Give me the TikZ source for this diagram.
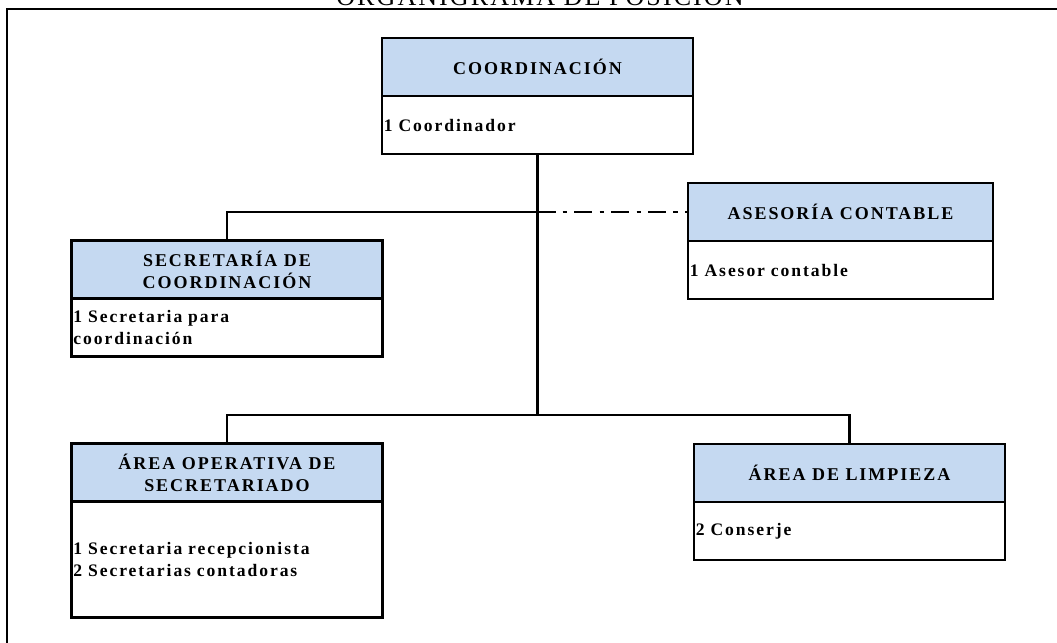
\documentclass[tikz,border=0pt]{standalone}
\usepackage{fontspec}
\setmainfont{Liberation Serif}
\newfontfamily\boxfont[LetterSpace=11]{Liberation Serif}
\newfontfamily\titlefont[LetterSpace=8]{Liberation Serif}
\usetikzlibrary{positioning}
\definecolor{headblue}{HTML}{C5D9F1}

\begin{document}
\begin{tikzpicture}[x=0.025cm,y=-0.025cm,line width=1.7pt,
  head/.style={draw,fill=headblue,outer sep=0pt,minimum width=7.775cm,minimum height=1.45cm,align=center,font=\boxfont\fontsize{12.8}{15.5}\selectfont\bfseries},
  body/.style={draw,outer sep=0pt,minimum height=1.45cm,text width=7.675cm,inner xsep=0.05cm,align=left,font=\boxfont\fontsize{12.5}{15.5}\selectfont\bfseries}]

\useasboundingbox (0,0) rectangle (1057,643);

% frame and title (cut at the page edge)
\draw (7,700) -- (7,9) -- (1100,9);
\node[anchor=base,inner sep=0pt,font=\titlefont\fontsize{18.5}{20}\selectfont](title) at (540,6){ORGANIGRAMA DE POSICIÓN};

\node[head](coord) at (537.5,67){COORDINACIÓN};
\node[body](coordB)[below=0pt of coord]{1 Coordinador};

\node[head](secre) at (227,269.5){SECRETARÍA DE\\COORDINACIÓN};
\node[body](secreB)[below=0pt of secre]{1 Secretaria para\\coordinación};

\node[head,minimum width=7.625cm](aseso) at (840.5,212){ASESORÍA CONTABLE};
\node[body,text width=7.525cm](asesoB)[below=0pt of aseso]{1 Asesor contable};

\node[head](opera) at (227,472.5){ÁREA OPERATIVA DE\\SECRETARIADO};
\node[body,minimum height=2.9cm](operaB)[below=0pt of opera]{1 Secretaria recepcionista\\2 Secretarias contadoras};

\node[head](limp) at (849.5,473){ÁREA DE LIMPIEZA};
\node[body](limpB)[below=0pt of limp]{2 Conserje};

\coordinate (j1) at (537.5,212);
\coordinate (j2) at (537.5,415);

\draw (coordB.south) -- (j2);
\draw (j1) -| (secre.north);
\draw[dash pattern=on 12.8pt off 5pt on 3.5pt off 5pt] (j1) -- (aseso.west);
\draw (opera.north) |- (j2) -| (limp.north);

\end{tikzpicture}
\end{document}
